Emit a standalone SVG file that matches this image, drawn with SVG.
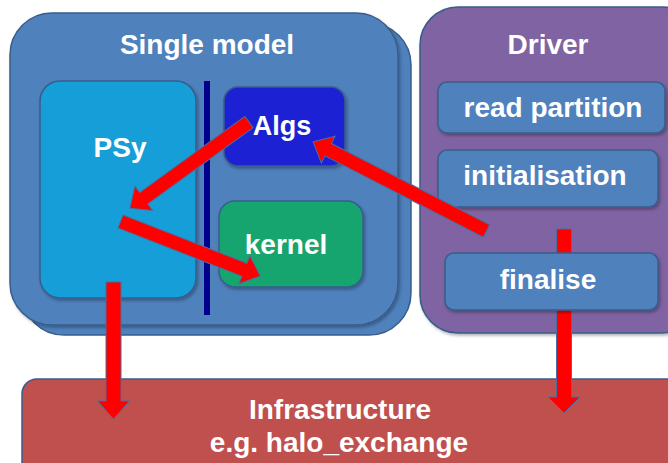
<svg xmlns="http://www.w3.org/2000/svg" width="668" height="463" viewBox="0 0 668 463">
<style>
  .t{font-family:"Liberation Sans",Arial,sans-serif;font-weight:bold;font-size:28px;fill:#ffffff;text-anchor:middle}
  .box{stroke:#385d8a;stroke-width:1.5}
  .arrow{fill:#ff0000;stroke:#4a6f9e;stroke-width:1}
</style>
<defs>
  <filter id="sh" x="-10%" y="-10%" width="130%" height="130%">
    <feDropShadow dx="1.5" dy="2" stdDeviation="1.5" flood-color="#000" flood-opacity="0.3"/>
  </filter>
</defs>
<rect width="668" height="463" fill="#ffffff"/>
<g id="single-model">
  <rect class="box" x="22" y="23" width="389" height="312" rx="42" fill="#4f81bd"/>
  <rect class="box" x="10" y="13" width="388" height="312" rx="42" fill="#4f81bd" filter="url(#sh)"/>
  <text class="t" x="207" y="54">Single model</text>
</g>
<g id="psy">
  <rect class="box" x="40" y="81" width="156" height="217" rx="20" fill="#129ed9" stroke="#2b4f7a" filter="url(#sh)"/>
  <text class="t" x="120" y="157">PSy</text>
</g>
<g id="divider">
  <rect x="204" y="81" width="6" height="234" fill="#00008c"/>
</g>
<g id="algs">
  <rect class="box" x="224" y="87" width="121" height="79" rx="14" fill="#1a23d3" stroke="#2b4f7a" filter="url(#sh)"/>
  <text class="t" x="282" y="135" style="font-size:27px">Algs</text>
</g>
<g id="kernel">
  <rect class="box" x="219" y="201" width="144" height="86" rx="16" fill="#12a56e" stroke="#2b4f7a" filter="url(#sh)"/>
  <text class="t" x="286" y="254">kernel</text>
</g>
<g id="driver">
  <rect class="box" x="420" y="7" width="280" height="326" rx="38" fill="#8064a2" stroke="#3f6590" filter="url(#sh)"/>
  <text class="t" x="548" y="54">Driver</text>
</g>
<g id="read-partition">
  <rect class="box" x="438" y="82" width="227" height="51" rx="9" fill="#4f81bd" filter="url(#sh)"/>
  <text class="t" x="553" y="117">read partition</text>
</g>
<g id="initialisation">
  <rect class="box" x="438" y="150" width="220" height="57" rx="9" fill="#4f81bd" filter="url(#sh)"/>
  <text class="t" x="545" y="185">initialisation</text>
</g>
<g id="infrastructure">
  <rect class="box" x="22" y="379" width="680" height="110" rx="15" fill="#c0504d"/>
  <text class="t" x="340" y="419">Infrastructure</text>
  <text class="t" x="339" y="452">e.g. halo_exchange</text>
</g>
<g id="connectors">
  <path class="arrow" transform="translate(249,122) rotate(144.1)" d="M0,-7 L130,-7 L130,-15 L147,0 L130,15 L130,7 L0,7 Z"/>
  <path class="arrow" transform="translate(120.5,221.5) rotate(21.3)" d="M0,-7 L133,-7 L133,-15 L150,0 L133,15 L133,7 L0,7 Z"/>
  <path class="arrow" transform="translate(486.5,231) rotate(-152.8)" d="M0,-7 L178,-7 L178,-15 L195,0 L178,15 L178,7 L0,7 Z"/>
  <path class="arrow" transform="translate(113.5,282) rotate(90)" d="M0,-7.5 L119,-7.5 L119,-16 L137,0 L119,16 L119,7.5 L0,7.5 Z"/>
  <path class="arrow" transform="translate(564,229) rotate(90)" d="M0,-7.5 L168,-7.5 L168,-16 L184,0 L168,16 L168,7.5 L0,7.5 Z"/>
</g>
<g id="finalise">
  <rect class="box" x="445" y="253" width="213" height="57" rx="9" fill="#4f81bd" filter="url(#sh)"/>
  <text class="t" x="548" y="289">finalise</text>
</g>
</svg>
